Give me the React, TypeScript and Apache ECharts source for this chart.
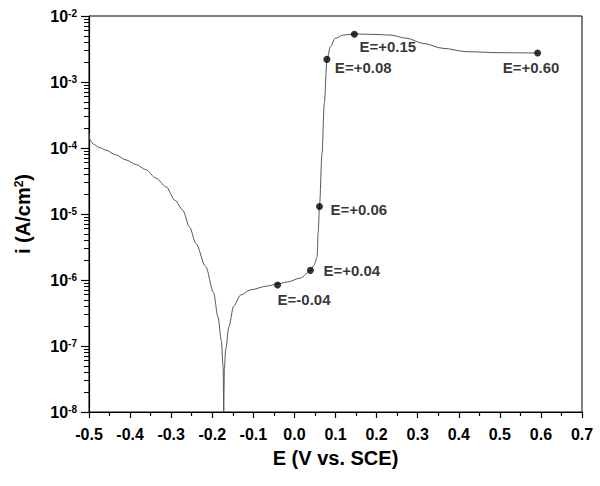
import React, { useEffect, useRef } from "react";
import * as echarts from "echarts";

// Polarization curve (E in V vs. SCE, i in A/cm^2)
const curveE = [
  -0.5, -0.497, -0.49, -0.475, -0.459, -0.435, -0.41, -0.385, -0.362, -0.337,
  -0.313, -0.29, -0.272, -0.255, -0.24, -0.216, -0.197, -0.186, -0.178, -0.1735,
  -0.172, -0.1715, -0.1705, -0.1675, -0.1595, -0.148, -0.131, -0.107, -0.066,
  -0.042, -0.018, 0.0146, 0.039, 0.048, 0.055, 0.058, 0.061, 0.0672, 0.0728,
  0.0794, 0.0874, 0.0995, 0.1197, 0.1464, 0.1845, 0.233, 0.2735, 0.313, 0.3617,
  0.419, 0.5, 0.5915,
];
const curveI = [
  1.7e-4, 1.3e-4, 1.15e-4, 1.02e-4, 9.3e-5, 7.9e-5, 6.6e-5, 5.6e-5, 4.7e-5, 3.5e-5,
  2.6e-5, 1.6e-5, 1.15e-5, 6.3e-6, 3.6e-6, 1.6e-6, 6.5e-7, 2.75e-7, 1.23e-7, 4.8e-8,
  1e-8, 1e-8, 4.4e-8, 8.7e-8, 1.95e-7, 4.0e-7, 5.9e-7, 7.1e-7, 8.1e-7,
  8.7e-7, 9.3e-7, 1.07e-6, 1.38e-6, 1.7e-6, 2.2e-6, 5.5e-6, 1.3e-5, 8.3e-5, 4.8e-4,
  2.2e-3, 3.4e-3, 4.6e-3, 5.15e-3, 5.33e-3, 5.28e-3, 5.15e-3, 4.6e-3, 3.85e-3, 3.24e-3,
  2.88e-3, 2.78e-3, 2.75e-3,
];

// Marked points
const markE = [-0.041, 0.039, 0.061, 0.079, 0.146, 0.592];
const markI = [8.4e-7, 1.4e-6, 1.3e-5, 2.2e-3, 5.3e-3, 2.75e-3];
const markLabels = ["E=-0.04", "E=+0.04", "E=+0.06", "E=+0.08", "E=+0.15", "E=+0.60"];

// Axis ticks
const xMin = -0.5;
const xMax = 0.7;
const xStep = 0.1;
const yMin = 1e-8;
const yMax = 1e-2;
const decades = [-8, -7, -6, -5, -4, -3];
const minorMultipliers = [2, 3, 4, 5, 6, 7, 8, 9];

const labelOffsets: [number, number][] = [
  [0, 15],
  [13, 0],
  [11, 3],
  [8, 8],
  [5, 12],
  [-35, 14],
];

const FONT = "'Liberation Sans', Arial, sans-serif";

export default function App() {
  const ref = useRef<HTMLDivElement>(null);
  useEffect(() => {
    if (!ref.current) return;
    const chart = echarts.init(ref.current, undefined, { renderer: "svg" });

    // minor tick positions in log10 space (for the helper value axis)
    const minorLog: number[] = [];
    decades.forEach((d) => minorMultipliers.forEach((m) => minorLog.push(d + Math.log10(m))));

    const labelStyle = {
      fontSize: 15,
      fontWeight: "bold",
      color: "#000",
      fontFamily: FONT,
      textBorderWidth: 0,
    };

    const option: any = {
      animation: false,
      backgroundColor: "#fff",
      textStyle: { fontFamily: FONT },
      grid: {
        left: 89,
        right: 18,
        top: 16,
        bottom: 74,
        show: true,
        borderColor: "#000",
        borderWidth: 1,
        backgroundColor: "transparent",
      },
      xAxis: {
        type: "value",
        min: xMin,
        max: xMax,
        interval: xStep,
        name: "E (V vs. SCE)",
        nameLocation: "middle",
        nameGap: 36,
        nameTextStyle: { fontSize: 20, fontWeight: "bold", color: "#000", fontFamily: FONT },
        axisLine: { onZero: false, lineStyle: { color: "#000", width: 1.2 } },
        axisTick: { show: true, length: 6, lineStyle: { color: "#000", width: 1.2 } },
        minorTick: { show: true, splitNumber: 2, length: 4, lineStyle: { color: "#000", width: 1.2 } },
        splitLine: { show: false },
        axisLabel: {
          margin: 14,
          fontSize: 16,
          fontWeight: "bold",
          color: "#000",
          fontFamily: FONT,
          formatter: (v: number) => v.toFixed(1),
        },
      },
      yAxis: [
        {
          type: "log",
          logBase: 10,
          min: yMin,
          max: yMax,
          splitNumber: 6,
          name: "i (A/cm{s|2})",
          nameLocation: "middle",
          nameGap: 56,
          nameRotate: 90,
          nameTextStyle: {
            fontSize: 20,
            fontWeight: "bold",
            color: "#000",
            fontFamily: FONT,
            rich: {
              s: { fontSize: 12, fontWeight: "bold", verticalAlign: "top", color: "#000", fontFamily: FONT },
            },
          },
          axisLine: { show: true, onZero: false, lineStyle: { color: "#000", width: 1.2 } },
          axisTick: { show: true, length: 8, lineStyle: { color: "#000", width: 1.2 } },
          splitLine: { show: false },
          axisLabel: {
            margin: 12,
            color: "#000",
            fontFamily: FONT,
            formatter: (v: number) => `{b|10}{s|${Math.round(Math.log10(v))}}`,
            rich: {
              b: { fontSize: 16, fontWeight: "bold", color: "#000", fontFamily: FONT },
              s: { fontSize: 10, fontWeight: "bold", color: "#000", verticalAlign: "top", fontFamily: FONT },
            },
          },
        },
        {
          type: "value",
          min: -8,
          max: -2,
          position: "left",
          offset: 0,
          show: true,
          axisLine: { show: false, onZero: false },
          axisLabel: { show: false },
          splitLine: { show: false },
          axisTick: {
            show: true,
            length: 5,
            customValues: minorLog,
            lineStyle: { color: "#000", width: 1 },
          },
        },
      ],
      series: [
        {
          type: "line",
          data: curveE.map((e, k) => [e, curveI[k]]),
          showSymbol: false,
          symbol: "none",
          lineStyle: { color: "#555", width: 1 },
          smooth: 0.3,
          smoothMonotone: "x",
          z: 2,
        },
        {
          type: "scatter",
          data: markE.map((e, k) => ({
            value: [e, markI[k]],
            label: {
              show: true,
              position: "inside",
              offset: labelOffsets[k],
              align: "left",
              verticalAlign: "middle",
              formatter: markLabels[k],
              ...labelStyle,
            },
          })),
          symbol: "circle",
          symbolSize: 7,
          itemStyle: { color: "#000" },
          label: { ...labelStyle },
          z: 3,
        },
      ],
    };
    chart.setOption(option);
    return () => chart.dispose();
  }, []);

  return (
    <div
      ref={ref}
      style={{ position: "fixed", left: 0, top: 0, width: 600, height: 486, background: "#fff" }}
    />
  );
}
